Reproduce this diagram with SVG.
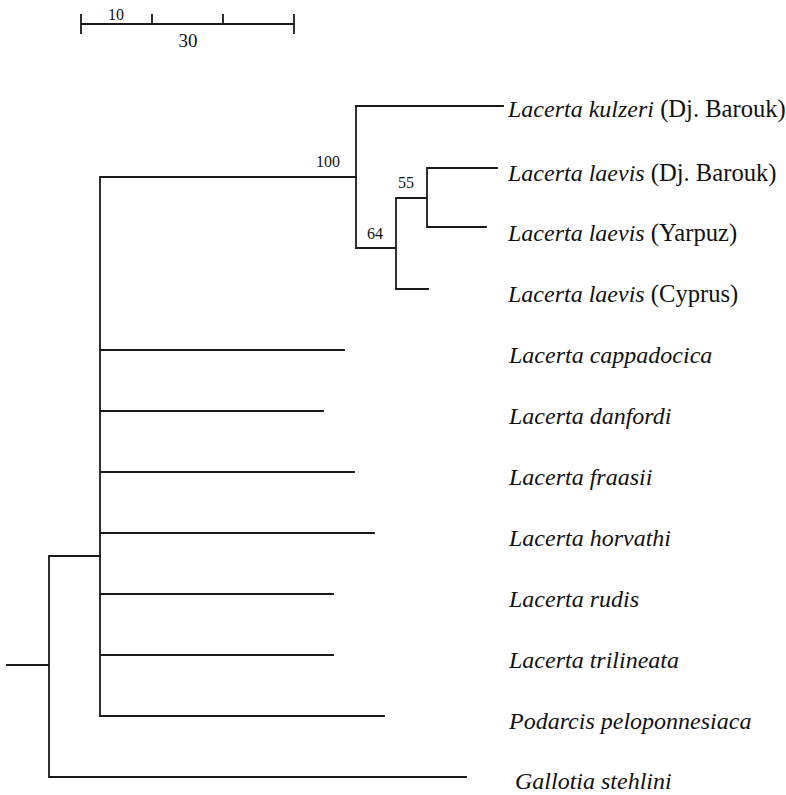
<svg xmlns="http://www.w3.org/2000/svg" width="786" height="795" viewBox="0 0 786 795">
<style>
.br{stroke:#1a1a1a;stroke-width:1.8;fill:none;stroke-linecap:square}
.lbl{font-family:"Liberation Serif","Times New Roman",serif;font-size:24px;fill:#111}
.rm{font-size:24.6px}
.sp{font-style:italic}
.num{font-family:"Liberation Serif","Times New Roman",serif;font-size:16px;fill:#111}
</style>
<rect width="786" height="795" fill="#fff"/>
<g id="scale">
<path class="br" d="M81 24H294M81 15V33M294 15V33M152 15V24M223 15V24"/>
<text class="num" x="116" y="20" text-anchor="middle">10</text>
<text class="num" x="188" y="47" text-anchor="middle" style="font-size:19px">30</text>
</g>
<g id="connectors">
<path class="br" d="M7 665H49M49 556V777M49 556H100M49 777H466"/>
<path class="br" d="M100 177V716M100 177H356M100 350H344M100 411H323M100 472H354M100 533H374M100 594H333M100 655H333M100 716H384"/>
<path class="br" d="M356 106V248M356 106H503M356 248H396M396 198V289M396 289H428M396 198H427M427 168V227M427 168H497M427 227H486"/>
</g>
<g id="support">
<text class="num" x="316" y="167">100</text>
<text class="num" x="398" y="188">55</text>
<text class="num" x="367" y="239">64</text>
</g>
<g id="n1"><text class="lbl" x="508" y="117"><tspan class="sp">Lacerta kulzeri</tspan><tspan class="rm"> (Dj. Barouk)</tspan></text></g>
<g id="n2"><text class="lbl" x="508" y="181"><tspan class="sp">Lacerta laevis</tspan><tspan class="rm"> (Dj. Barouk)</tspan></text></g>
<g id="n3"><text class="lbl" x="508" y="241"><tspan class="sp">Lacerta laevis</tspan><tspan class="rm"> (Yarpuz)</tspan></text></g>
<g id="n4"><text class="lbl" x="508" y="302"><tspan class="sp">Lacerta laevis</tspan><tspan class="rm"> (Cyprus)</tspan></text></g>
<g id="n5"><text class="lbl sp" x="509" y="363">Lacerta cappadocica</text></g>
<g id="n6"><text class="lbl sp" x="509" y="424">Lacerta danfordi</text></g>
<g id="n7"><text class="lbl sp" x="509" y="485">Lacerta fraasii</text></g>
<g id="n8"><text class="lbl sp" x="509" y="546">Lacerta horvathi</text></g>
<g id="n9"><text class="lbl sp" x="509" y="607">Lacerta rudis</text></g>
<g id="n10"><text class="lbl sp" x="509" y="668">Lacerta trilineata</text></g>
<g id="n11"><text class="lbl sp" x="509" y="729">Podarcis peloponnesiaca</text></g>
<g id="n12"><text class="lbl sp" x="515" y="789">Gallotia stehlini</text></g>
</svg>
